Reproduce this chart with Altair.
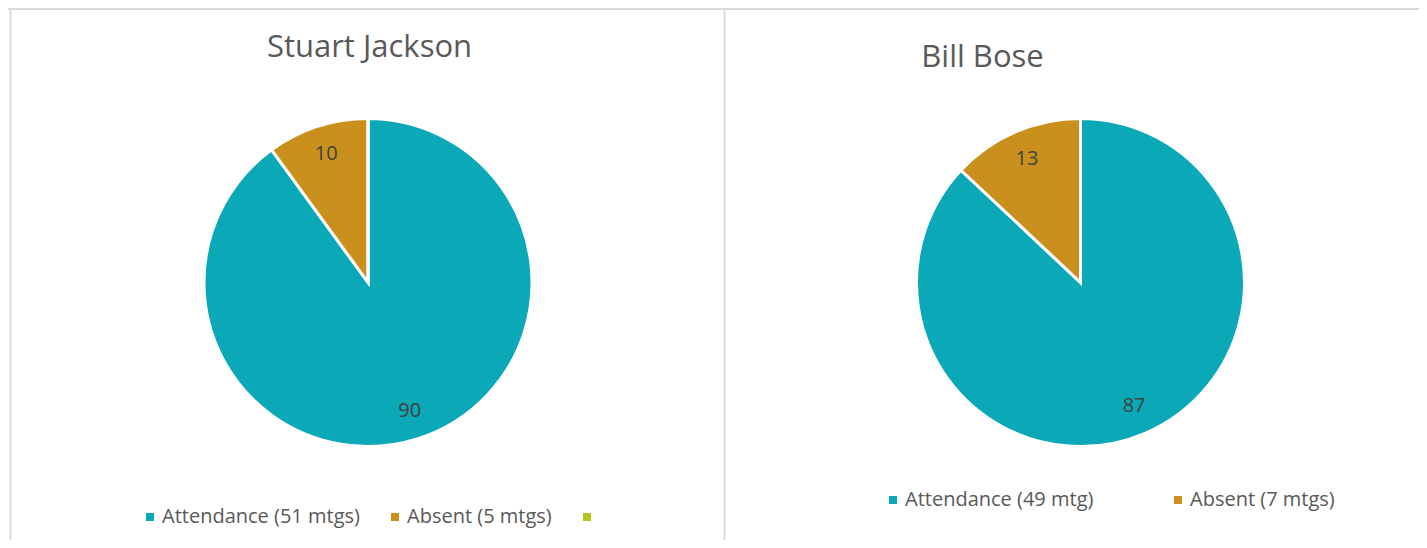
import altair as alt
import pandas as pd

# ---- data ----
titles = ["Stuart Jackson", "Bill Bose"]
left_labels = ["Attendance (51 mtgs)", "Absent (5 mtgs)", ""]
left_values = [90, 10, 0]
right_labels = ["Attendance (49 mtg)", "Absent (7 mtgs)"]
right_values = [87, 13]
left_colors = ["#0BA8B8", "#C9901D", "#B4C522"]
right_colors = ["#0BA8B8", "#C9901D"]

FONT = "Open Sans"
W, H = 1411, 532
GRID = "#D9D9D9"


def one_row():
    return pd.DataFrame({"k": [0]})


def pie(labels, values, colors, cx, cy, lx, ly, colpad):
    df = pd.DataFrame({"label": labels, "value": values,
                       "idx": list(range(len(labels)))})
    base = alt.Chart(df).encode(
        theta=alt.Theta("value:Q", stack=True),
        order=alt.Order("idx:Q"),
    )
    arc = base.mark_arc(radius=164, stroke="white", strokeWidth=3).encode(
        x=alt.value(cx), y=alt.value(cy),
        color=alt.Color(
            "label:N",
            scale=alt.Scale(domain=labels, range=colors),
            sort=labels,
            legend=alt.Legend(
                title=None, orient="none", legendX=lx, legendY=ly,
                direction="horizontal", symbolType="square", symbolSize=64,
                symbolStrokeWidth=0, labelFont=FONT, labelFontSize=20,
                labelColor="#595959", labelLimit=400, labelOffset=2,
                columnPadding=colpad, padding=0,
            ),
        ),
    )
    text = base.transform_filter("datum.value > 0").mark_text(
        radius=135, font=FONT, fontSize=20, color="#404040", baseline="middle"
    ).encode(
        x=alt.value(cx), y=alt.value(cy), text="value:Q", detail="label:N"
    )
    return arc, text


arcL, textL = pie(left_labels, left_values, left_colors, 360, 274.5, 132, 499, 25)
arcR, textR = pie(right_labels, right_values, right_colors, 1072.5, 274.5, 875, 482, 74)

title_style = dict(font=FONT, fontSize=31, color="#595959", align="center",
                   baseline="alphabetic")
tL = alt.Chart(pd.DataFrame({"t": [titles[0]]})).mark_text(**title_style).encode(
    text="t:N", x=alt.value(361.5), y=alt.value(49))
tR = alt.Chart(pd.DataFrame({"t": [titles[1]]})).mark_text(**title_style).encode(
    text="t:N", x=alt.value(974.5), y=alt.value(59))

top = alt.Chart(one_row()).mark_rule(color=GRID, strokeWidth=2).encode(
    x=alt.value(0), x2=alt.value(W), y=alt.value(1))
left = alt.Chart(one_row()).mark_rule(color=GRID, strokeWidth=2).encode(
    x=alt.value(2.5), y=alt.value(0), y2=alt.value(H))
mid = alt.Chart(one_row()).mark_rule(color=GRID, strokeWidth=2).encode(
    x=alt.value(716.5), y=alt.value(0), y2=alt.value(H))

chart = alt.layer(top, left, mid, tL, tR, arcL, textL, arcR, textR).resolve_scale(
    color="independent", theta="independent"
).properties(
    width=W, height=H, padding=0, background="white",
    autosize=alt.AutoSizeParams(type="none"),
).configure_view(stroke=None)

chart.save("out.html", embed_options={"renderer": "svg", "actions": False})
